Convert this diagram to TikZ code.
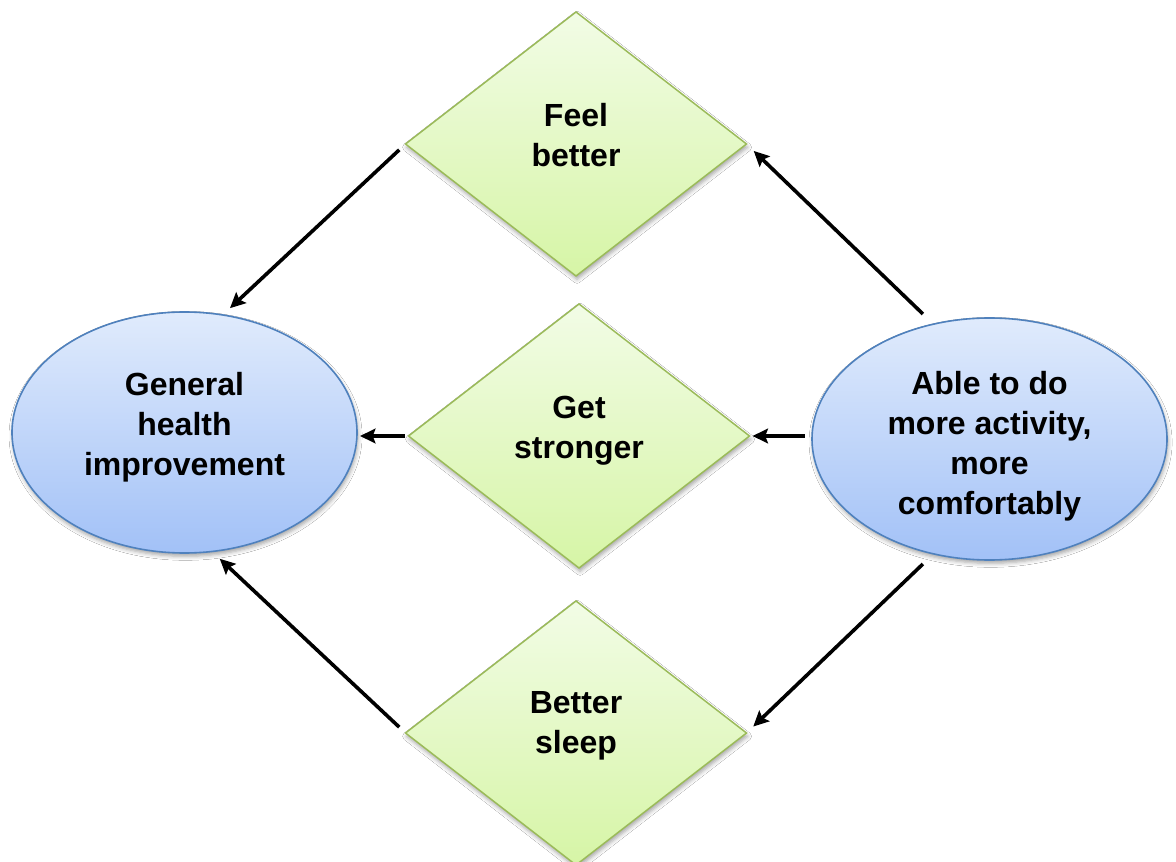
\documentclass[tikz,border=0pt]{standalone}
\usepackage{fontspec}
\setmainfont{Liberation Sans}
\usetikzlibrary{shapes.geometric,shadows.blur,arrows.meta}

\definecolor{diaTop}{HTML}{F2FCE6}
\definecolor{diaBot}{HTML}{D6F5A6}
\definecolor{diaLine}{HTML}{9BBB59}
\definecolor{ellTop}{HTML}{E0EBFC}
\definecolor{ellBot}{HTML}{A2C1F7}
\definecolor{ellLine}{HTML}{4F81BD}

\begin{document}
\begin{tikzpicture}[x=0.75pt,y=-0.75pt,
  every node/.style={inner sep=0pt,outer sep=0pt},
  softshadow/.style={blur shadow={shadow xshift=0.8pt,shadow yshift=-2.5pt,
      shadow blur radius=3pt,shadow opacity=35}},
  benefit/.style={diamond,minimum width=255.75pt,minimum height=198pt,
      draw=diaLine,line width=1.1pt,top color=diaTop,bottom color=diaBot,softshadow},
  goal/.style={ellipse,draw=ellLine,line width=1.2pt,
      top color=ellTop,bottom color=ellBot,softshadow},
  txt/.style={align=center,font=\fontsize{24}{30}\selectfont\bfseries},
  arr/.style={line width=2.7pt,-{Stealth[length=11.5pt,width=11pt,inset=2pt]}}]

\fill[white] (0,0) rectangle (1176,862);
\useasboundingbox (0,0) rectangle (1176,862);

% the three diamonds
\node[benefit] (fb) at (576,144) {};
\node[benefit] (gs) at (579,436) {};
\node[benefit] (bs) at (576,733) {};

% the two ellipses
\node[goal,minimum width=258.75pt,minimum height=180.75pt] (gh) at (184.5,432.5) {};
\node[goal,minimum width=266.25pt,minimum height=181.5pt] (able) at (989.5,439) {};

% labels
\node[txt] (fbt) at (576,135) {Feel\\better};
\node[txt] (gst) at (579,431) {Get\\stronger};
\node[txt] (bst) at (576,726) {Better\\sleep};
\node[txt] (ght) at (184.5,427) {General\\health\\improvement};
\node[txt] (ablet) at (989.5,446) {Able to do\\more activity,\\more\\comfortably};

% connectors
\draw[arr,shorten <=6.4pt,shorten >=7.5pt] (fb.west) -- (gh.72);
\draw[arr,shorten <=2.3pt,shorten >=2.3pt] (gs.west) -- (gs.west -| gh.east);
\draw[arr,shorten <=6.4pt,shorten >=8pt] (bs.west) -- (gh.-77);
\draw[arr,shorten <=11pt,shorten >=7.5pt] (able.116) -- (fb.east);
\draw[arr,shorten <=5.3pt,shorten >=2.3pt] (able.west |- gs.east) -- (gs.east);
\draw[arr,shorten <=11pt,shorten >=7pt] (able.-116) -- (bs.east);
\end{tikzpicture}
\end{document}
